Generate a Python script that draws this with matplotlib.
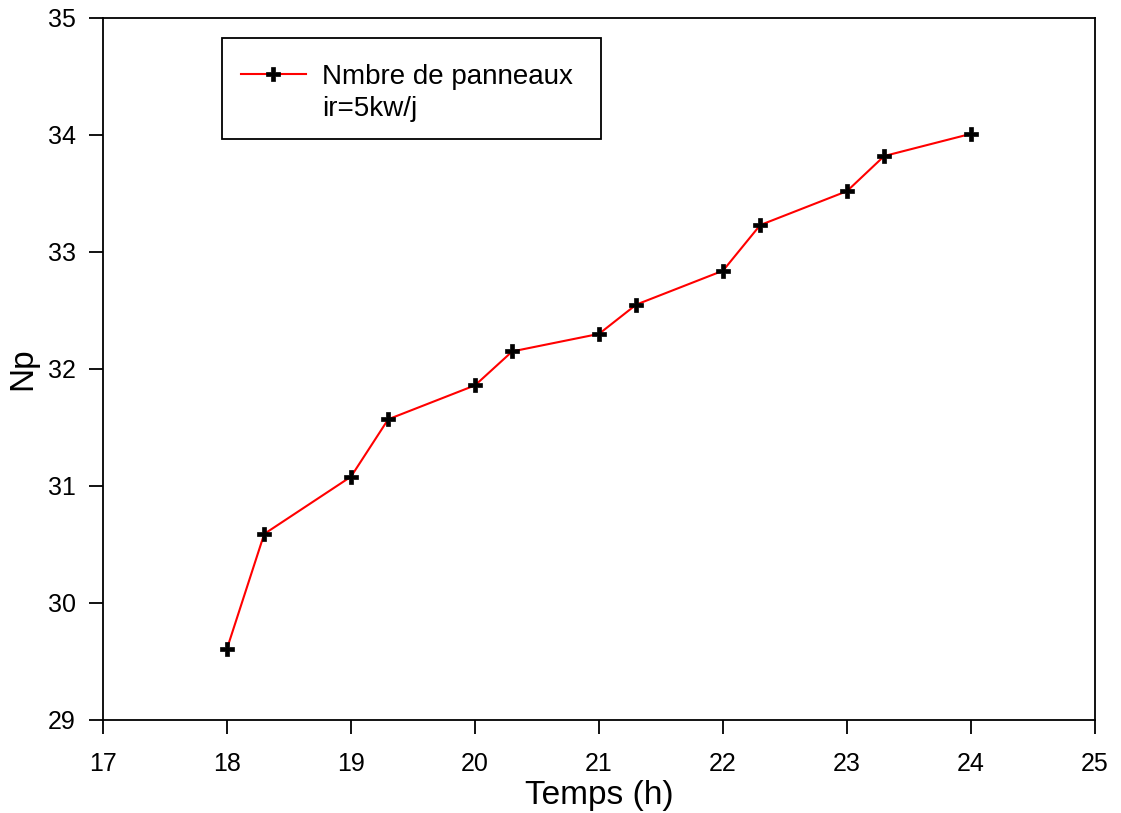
import numpy as np
import matplotlib.pyplot as plt
from matplotlib.lines import Line2D
from matplotlib.patches import Rectangle

plt.rcParams['font.family'] = ['Liberation Sans', 'DejaVu Sans']

# data
temps = [18, 18.3, 19, 19.3, 20, 20.3, 21, 21.3, 22, 22.3, 23, 23.3, 24]
np_panneaux = [29.61, 30.59, 31.08, 31.57, 31.86, 32.15, 32.30, 32.55,
               32.84, 33.23, 33.52, 33.82, 34.01]
xticks = [17, 18, 19, 20, 21, 22, 23, 24, 25]
yticks = [29, 30, 31, 32, 33, 34, 35]
legend_lines = ['Nmbre de panneaux', 'ir=5kw/j']

fig = plt.figure(figsize=(11.21, 8.13), dpi=100)
ax = fig.add_axes([0.0919, 0.1144, 0.8849, 0.8635])

line, = ax.plot(temps, np_panneaux, color='red', lw=1.5, marker='P', ms=10,
                mfc='black', mec='black', mew=0.5)

ax.set_xlim(17, 25)
ax.set_ylim(29, 35)
ax.set_xticks(xticks)
ax.set_yticks(yticks)
ax.tick_params(direction='out', length=10, width=1.3, labelsize=18)
ax.tick_params(axis='x', pad=13)
ax.tick_params(axis='y', pad=9.5)
for s in ax.spines.values():
    s.set_linewidth(1.3)

ax.set_xlabel('Temps (h)', fontsize=24, labelpad=3)
ax.set_ylabel('Np', fontsize=24, labelpad=7)

# legend box drawn separately so the text can sit where it does in the original
ax.add_patch(Rectangle((0.12, 0.8276), 0.382, 0.1439, transform=ax.transAxes,
                       fill=True, facecolor='white', edgecolor='black',
                       lw=1.3, zorder=4))

# second legend line has no handle, so the marker sits on the first line
blank = Line2D([], [], color='none')
leg = ax.legend([line, blank], legend_lines,
                loc='upper left', bbox_to_anchor=(0.125, 0.9544),
                fontsize=20, frameon=False, handlelength=2.34,
                handletextpad=0.58, borderpad=0.5, labelspacing=0.22,
                borderaxespad=0)
leg.set_zorder(5)

fig.savefig('out.png', dpi=100)
